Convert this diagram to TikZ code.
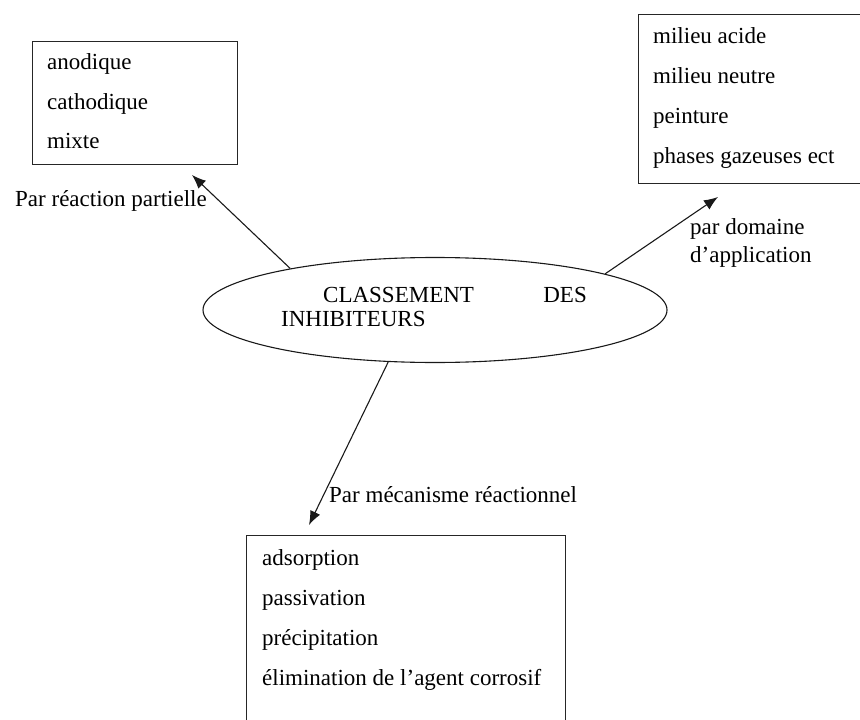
\documentclass[tikz,border=0pt]{standalone}
\usepackage{fontspec}
\setmainfont{Liberation Serif}
\usetikzlibrary{shapes.geometric,arrows.meta}
\begin{document}
\begin{tikzpicture}[x=1pt,y=-1pt,
  txt/.style={inner sep=0pt,anchor=base west,font=\fontsize{23}{28}\selectfont},
  listbox/.style={draw=black!85,line width=1.1pt,inner sep=0pt,anchor=north west},
  conn/.style={draw=black!90,line width=1.1pt,-{Latex[length=14pt,width=11pt]}}]
\useasboundingbox (0,0) rectangle (860,720);
\clip (0,0) rectangle (860,720);
% boxes
\node[listbox,minimum width=205pt,minimum height=123pt] (bl) at (32,41) {};
\node[listbox,minimum width=240pt,minimum height=169pt] (br) at (638,14) {};
\node[listbox,minimum width=319pt,minimum height=200pt] (bb) at (246,535) {};
% ellipse
\node[draw=black!90,line width=1.1pt,ellipse,inner sep=0pt,minimum width=464pt,minimum height=105pt] (el) at (435,310) {};
\node[txt] (c1) at (323,302) {CLASSEMENT};
\node[txt,anchor=base east] (c2) at (587,302) {DES};
\node[txt] (c3) at (281,326) {INHIBITEURS};
% list texts
\node[txt] (a1) at (47,69) {anodique};
\node[txt] (a2) at (47,109) {cathodique};
\node[txt] (a3) at (47,148) {mixte};
\node[txt] (m1) at (653,43) {milieu acide};
\node[txt] (m2) at (653,83) {milieu neutre};
\node[txt] (m3) at (653,123) {peinture};
\node[txt] (m4) at (653,163) {phases gazeuses ect};
\node[txt] (p1) at (262,565) {adsorption};
\node[txt] (p2) at (262,605) {passivation};
\node[txt] (p3) at (262,645) {précipitation};
\node[txt] (p4) at (262,685) {élimination de l’agent corrosif};
% labels
\node[txt] (l1) at (15,206) {Par réaction partielle};
\node[txt] (l2) at (690,234) {par domaine};
\node[txt] (l3) at (690,262) {d’application};
\node[txt] (l4) at (329,502) {Par mécanisme réactionnel};
% arrow tips
\coordinate (t1) at (192,175);
\coordinate (t2) at (718,197);
\coordinate (t3) at (309,525);
\draw[conn] (el.164.4) -- (t1);
\draw[conn] (el.12.1) -- (t2);
\draw[conn] (el.-132.2) -- (t3);
\end{tikzpicture}
\end{document}
